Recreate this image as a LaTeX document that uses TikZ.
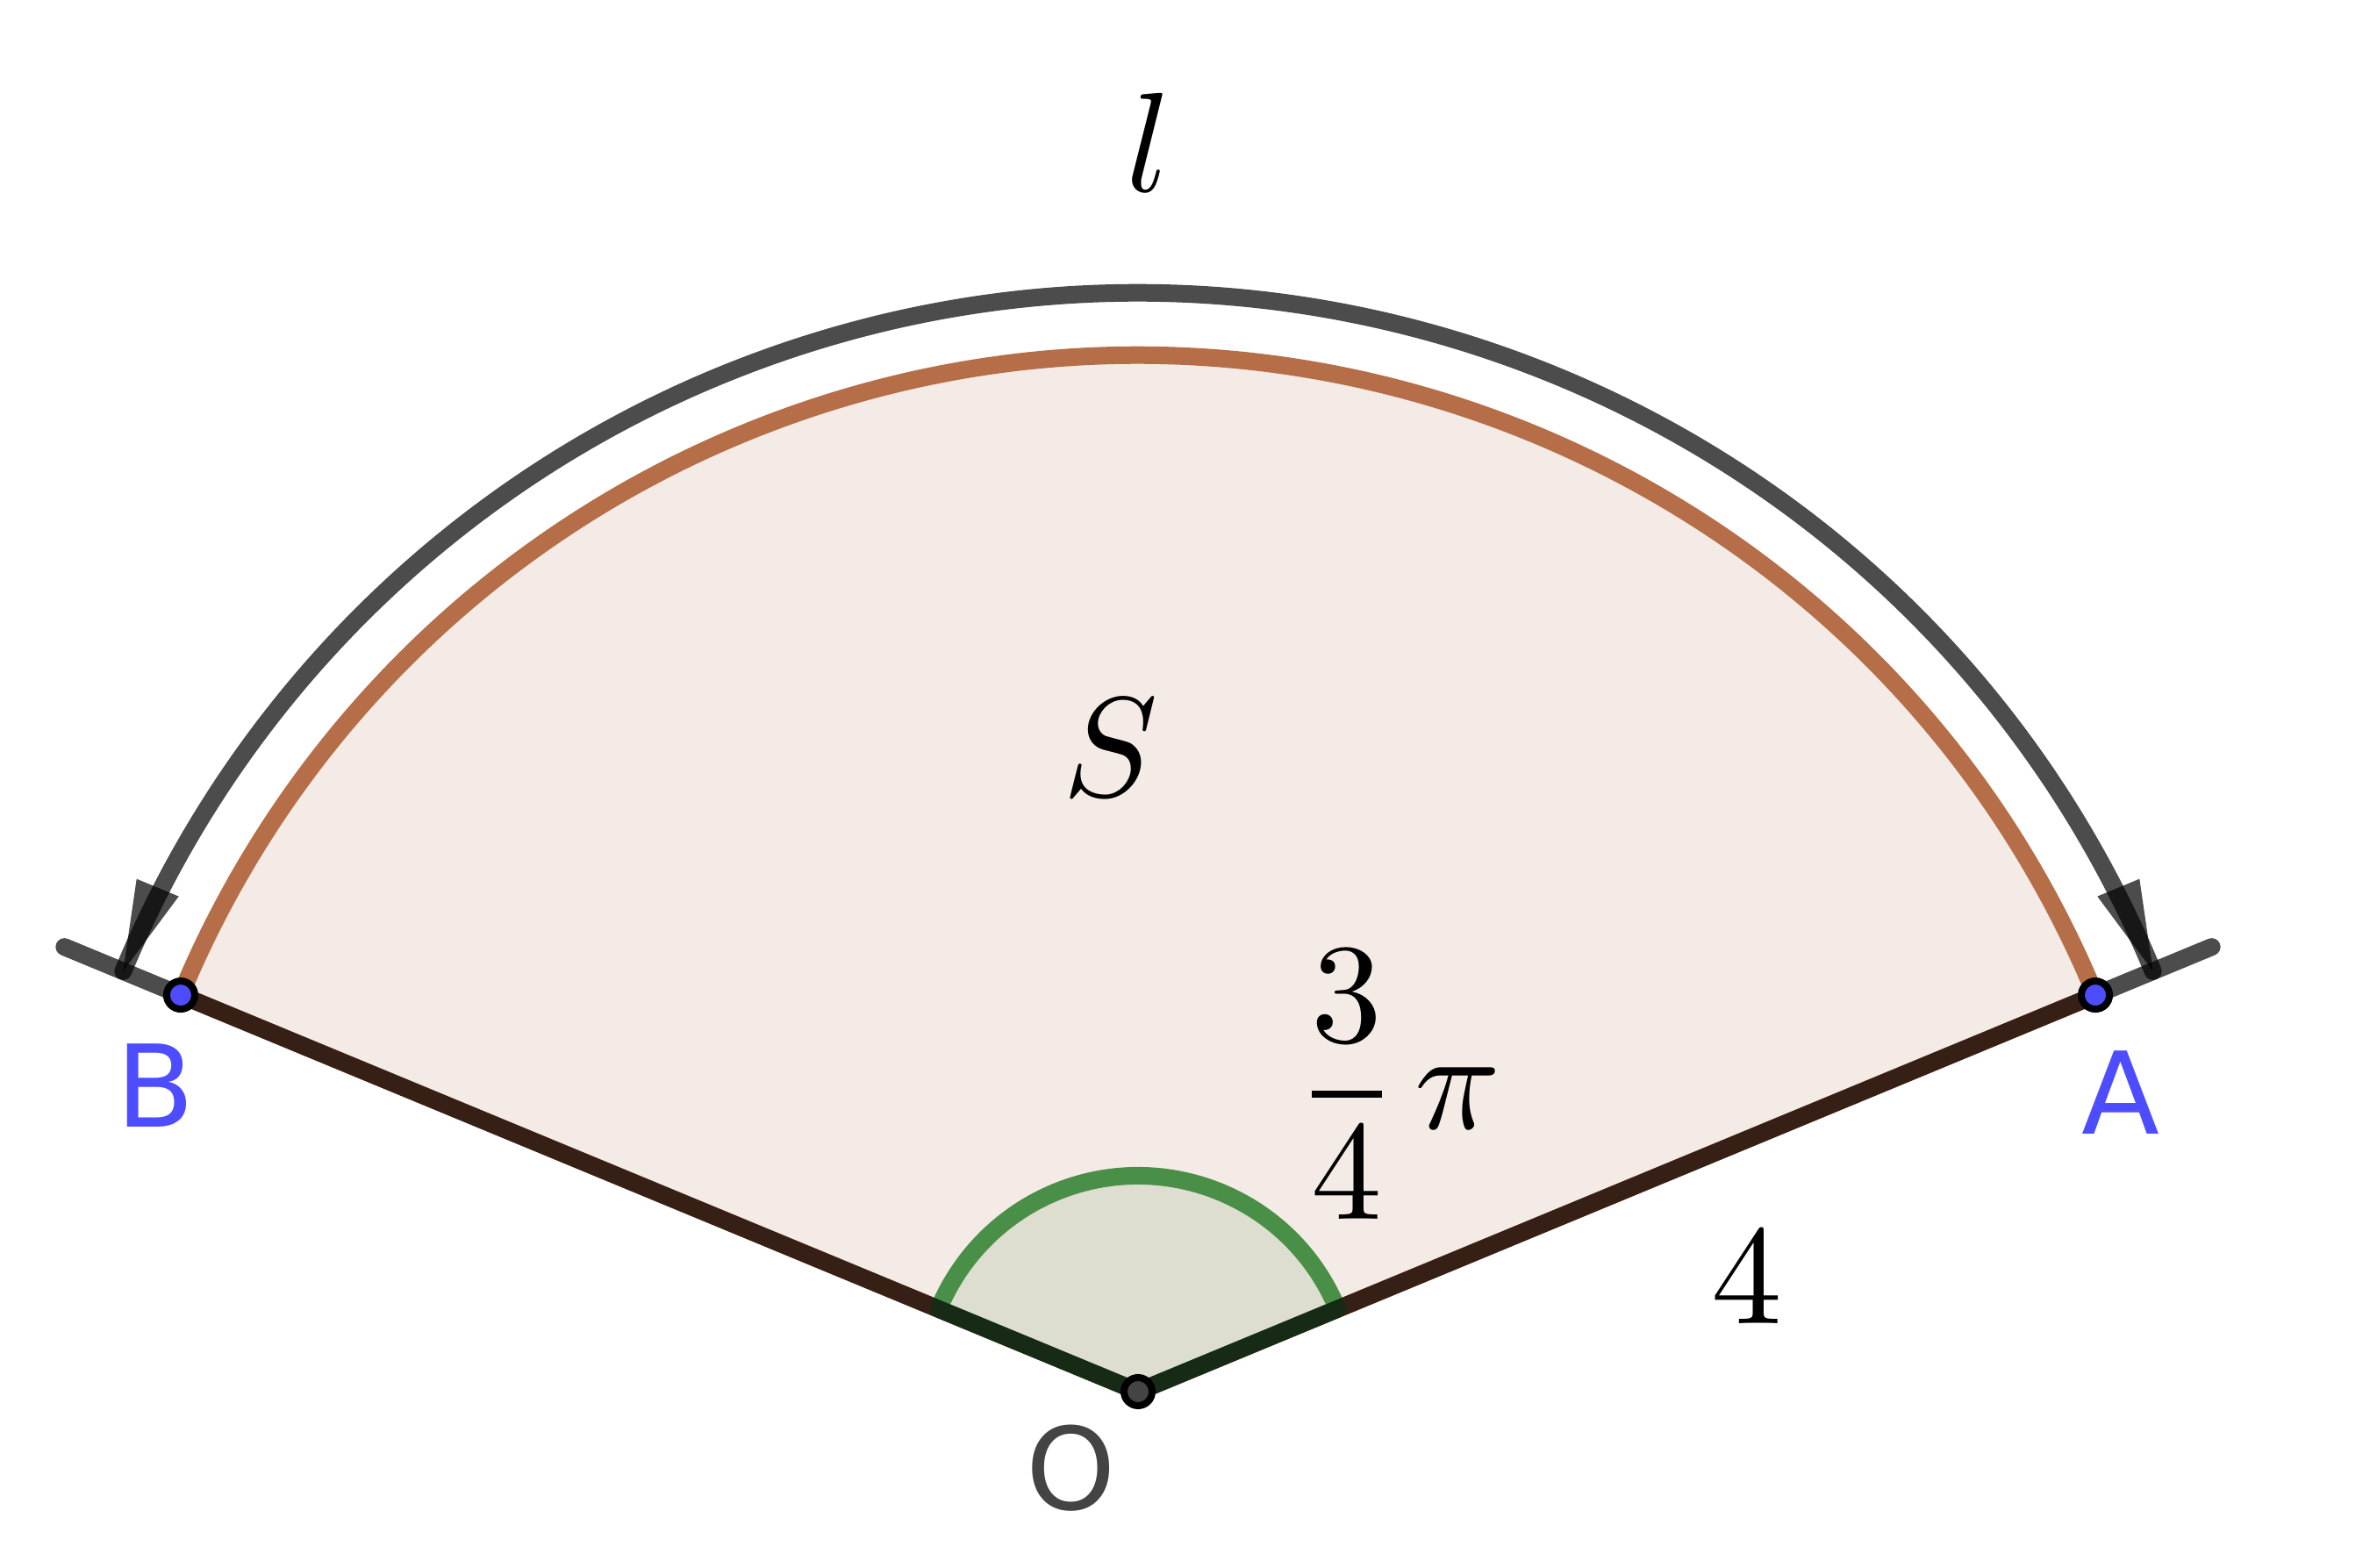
\RequirePackage{fix-cm}
\documentclass[tikz,border=0pt]{standalone}
\usepackage{fontspec}
\usetikzlibrary{calc}
\newfontfamily\labelfont{DejaVu Sans}
\definecolor{sectfill}{HTML}{F4EBE6}
\definecolor{sectedge}{HTML}{B66E48}
\definecolor{angfill}{HTML}{DDDECF}
\definecolor{angedge}{HTML}{4A8F47}
\definecolor{ptblue}{HTML}{4D4DFF}
\definecolor{ptgray}{HTML}{444444}
\tikzset{
  thickline/.style={line width=0.2cm, line cap=round, line join=round},
  rayline/.style={thickline, draw=black, draw opacity=0.7},
  arrowhead/.style={fill=black, fill opacity=0.7},
  ptdot/.style={circle, draw=black, line width=0.08cm, minimum size=0.32cm, inner sep=0pt},
  mathlbl/.style={inner sep=0pt, scale=4.6, font=\normalsize},
  ptlbl/.style={inner sep=0pt, anchor=base, font=\labelfont\fontsize{37}{44}\selectfont}
}
\begin{document}
\begin{tikzpicture}
\useasboundingbox (0,0) rectangle (27.09,17.87);
\coordinate (O) at (12.97,2.01);
\coordinate (A) at ($(O)+(22.5:11.81)$);
\coordinate (B) at ($(O)+(157.5:11.81)$);
\coordinate (EA) at ($(O)+(22.5:13.245)$);
\coordinate (EB) at ($(O)+(157.5:13.245)$);
\coordinate (TA) at ($(O)+(22.5:12.52)$);
% sector
\fill[sectfill] (O) -- (A) arc[start angle=22.5, end angle=157.5, radius=11.81] -- cycle;
\draw[thickline, draw=sectedge] (O) -- (A) arc[start angle=22.5, end angle=157.5, radius=11.81] -- cycle;
% angle mark
\filldraw[thickline, fill=angfill, draw=angedge] (O) -- ++(22.5:2.46) arc[start angle=22.5, end angle=157.5, radius=2.46] -- cycle;
% rays
\draw[rayline] (EB) -- (O) -- (EA);
% arc length arrow
\draw[rayline] (TA) arc[start angle=22.5, end angle=157.5, radius=12.52];
\fill[arrowhead, shift={(O)}] (-11.567,4.791) -- (-10.933,5.644) -- (-11.413,5.843) -- cycle;
\fill[arrowhead, shift={(O)}] (11.567,4.791) -- (10.933,5.644) -- (11.413,5.843) -- cycle;
% points
\node[ptdot, fill=ptblue] (dA) at (A) {};
\node[ptdot, fill=ptblue] (dB) at (B) {};
\node[ptdot, fill=ptgray] (dO) at (O) {};
% labels
\node[mathlbl] (lbl) at (13.09,16.25) {$l$};
\node[mathlbl] (sl) at (12.66,9.35) {$S$};
\node[mathlbl, anchor=base west] (ang) at (14.72,5.00) {$\displaystyle{\lower0.6pt\hbox{$3$}\above0.5pt\raise0.5pt\hbox{$4$}}\mkern2mu\pi$};
\node[mathlbl] (rad) at (19.91,3.31) {$4$};
\node[ptlbl, text=ptblue] (lB) at (1.775,5.02) {B};
\node[ptlbl, text=ptblue] (lA) at (24.165,4.94) {A};
\node[ptlbl, text=ptgray] (lO) at (12.21,0.66) {O};
\end{tikzpicture}
\end{document}
